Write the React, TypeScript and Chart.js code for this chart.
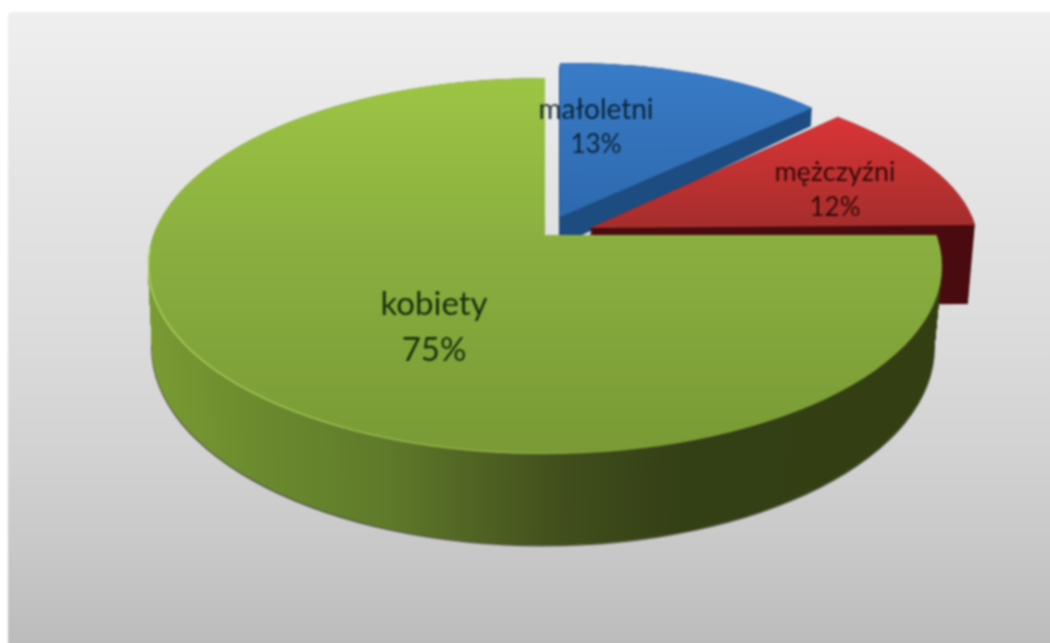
import React, { useEffect, useRef } from "react";
import { Chart, registerables } from "chart.js";

Chart.register(...registerables);

// ---- data ----
const categories = ["małoletni", "mężczyźni", "kobiety"];
const shares = [13, 12, 75];

// ---- styling / geometry ----
const WIDTH = 1050;
const HEIGHT = 643;
const BLEED = 10; // the canvas runs past the window so the soft filter leaves no pale edge
const FONT = "Lato, 'Open Sans', sans-serif";

const faceStops = [
  [[0, "#3a7cc8"], [1, "#2d69ae"]],
  [[0, "#dc3437"], [1, "#a52e2c"]],
];
const sliceMatrix = [
  { ax: 346, ay: -5, cx: 0, cy: 154, ox: 560, oy: 217, top: 63, base: { ox: 559, oy: 246, cy: 170 }, side: "#1e4d82" },
  { ax: 385, ay: -3, cx: 48, cy: 159, ox: 590, oy: 228, top: 117, base: { ox: 583, oy: 307, cy: 159 }, side: "#4a0c10" },
];
const greenApex = { x: 545, y: 235 };
const greenTop = { x: 545, y: 266, rx: 397, ry: 188 };
const greenBase = { x: 543, y: 347, rx: 391, ry: 198 };
const greenFaceStops = [[0, "#9dc544"], [0.42, "#8bb040"], [1, "#799a35"]];
const greenRimStops = [
  [0, "#7a9a33"], [0.14, "#6b8a2e"], [0.3, "#5f7a2a"], [0.42, "#4f6223"],
  [0.52, "#414f1c"], [0.68, "#333f15"], [1, "#333f12"],
];
const panelStops = [
  [0, "#efefef"], [0.3, "#e3e3e3"], [0.5, "#dcdcdc"], [0.7, "#d2d2d2"], [0.85, "#c8c8c8"], [1, "#bcbcbc"],
];
const labelSpots = [
  { x: 596, y: 110, gap: 35, size: 28, pct: 26, color: "rgba(8,28,40,0.9)" },
  { x: 835, y: 172, gap: 36, size: 27, pct: 26, color: "rgba(40,5,5,0.92)" },
  { x: 434, y: 304, gap: 46, size: 33, pct: 33, color: "rgba(15,40,10,0.95)" },
];

function gradient(ctx: any, x0: number, y0: number, x1: number, y1: number, stops: any[]) {
  const g = ctx.createLinearGradient(x0, y0, x1, y1);
  stops.forEach(([o, c]) => g.addColorStop(o, c));
  return g;
}

function paint(arc: any, ctx: any, fill: any) {
  const saved = arc.options;
  arc.options = { ...saved, backgroundColor: fill };
  arc.draw(ctx);
  arc.options = saved;
}

function place(ctx: any, arc: any, a: number, b: number, c: number, d: number, e: number, f: number) {
  const R = arc.outerRadius;
  ctx.transform(a / R, b / R, c / R, d / R, e, f);
  ctx.translate(-arc.x, -arc.y);
}

const pie3d = {
  id: "pie3d",
  beforeDraw(chart: any) {
    const ctx = chart.ctx;
    ctx.save();
    ctx.fillStyle = "#ffffff";
    ctx.fillRect(0, 0, WIDTH + BLEED, HEIGHT + BLEED);
    ctx.fillStyle = gradient(ctx, 0, 12, 0, HEIGHT, panelStops);
    ctx.beginPath();
    ctx.roundRect(8, 12, WIDTH - 8 + BLEED, HEIGHT - 12 + BLEED, 5);
    ctx.fill();
    ctx.restore();
  },
  beforeDatasetsDraw(chart: any) {
    const ctx = chart.ctx;
    const arcs = chart.getDatasetMeta(0).data;

    // exploded wedges: side first, then face
    sliceMatrix.forEach((m, i) => {
      const arc = arcs[i];
      const R = arc.outerRadius;
      const steps = Math.ceil(m.base.oy - m.oy);
      for (let s = steps; s >= 0; s -= 1) {
        const k = s / steps;
        ctx.save();
        place(
          ctx, arc, m.ax, m.ay, m.cx,
          m.cy + (m.base.cy - m.cy) * k,
          m.ox + (m.base.ox - m.ox) * k,
          m.oy + (m.base.oy - m.oy) * k,
        );
        paint(arc, ctx, m.side);
        ctx.restore();
      }
      ctx.save();
      place(ctx, arc, m.ax, m.ay, m.cx, m.cy, m.ox, m.oy);
      const y0 = arc.y + ((m.top - m.oy) * R) / m.cy;
      paint(arc, ctx, gradient(ctx, arc.x, y0, arc.x, arc.y, faceStops[i]));
      ctx.restore();
    });

    // large slice: soft dark edge under the rim
    const big = arcs[2];
    const R = big.outerRadius;
    ctx.save();
    place(ctx, big, greenBase.rx + 1, 0, 0, greenBase.ry + 1, greenBase.x, greenBase.y + 0.5);
    paint(big, ctx, "rgba(40,50,22,0.75)");
    ctx.restore();

    // large slice: rim
    const steps = 90;
    for (let s = steps; s >= 0; s -= 1) {
      const k = s / steps;
      const x = greenTop.x + (greenBase.x - greenTop.x) * k;
      const y = greenTop.y + (greenBase.y - greenTop.y) * k;
      const rx = greenTop.rx + (greenBase.rx - greenTop.rx) * k;
      const ry = greenTop.ry + (greenBase.ry - greenTop.ry) * k;
      ctx.save();
      place(ctx, big, rx, 0, 0, ry, x, y);
      paint(big, ctx, gradient(ctx, big.x - R, 0, big.x + R, 0, greenRimStops));
      ctx.restore();
    }

    // large slice: face, apex off the ellipse's centre, trimmed to the ellipse
    ctx.save();
    ctx.beginPath();
    ctx.ellipse(greenTop.x, greenTop.y, greenTop.rx, greenTop.ry, 0, 0, Math.PI * 2);
    ctx.clip();
    const sx = 500;
    const sy = 300;
    place(ctx, big, sx, 0, 0, sy, greenApex.x, greenApex.y);
    const py = (v: number) => big.y + ((v - greenApex.y) * R) / sy;
    paint(big, ctx, gradient(ctx, big.x, py(78), big.x, py(454), greenFaceStops));
    ctx.restore();

    // pale edge on the lower-left, fading out to the right
    ctx.save();
    ctx.strokeStyle = gradient(ctx, 148, 0, 640, 0, [
      [0, "rgba(185,222,105,0.75)"],
      [0.7, "rgba(185,222,105,0.45)"],
      [1, "rgba(185,222,105,0)"],
    ]);
    ctx.lineWidth = 1.5;
    ctx.beginPath();
    ctx.ellipse(greenTop.x, greenTop.y, greenTop.rx - 0.5, greenTop.ry - 0.5, 0, Math.PI * 0.42, Math.PI * 1.03);
    ctx.stroke();
    ctx.restore();
    return false;
  },
  afterDraw(chart: any) {
    const ctx = chart.ctx;
    const total = shares.reduce((a, b) => a + b, 0);
    ctx.save();
    ctx.textAlign = "center";
    ctx.textBaseline = "middle";
    categories.forEach((name, i) => {
      const l = labelSpots[i];
      ctx.fillStyle = l.color;
      ctx.font = `${l.size}px ${FONT}`;
      ctx.fillText(name, l.x, l.y);
      ctx.font = `${l.pct}px ${FONT}`;
      ctx.fillText(`${Math.round((shares[i] / total) * 100)}%`, l.x, l.y + l.gap);
    });
    ctx.restore();
  },
};

export default function App() {
  const ref = useRef<HTMLCanvasElement | null>(null);
  useEffect(() => {
    document.body.style.margin = "0";
    const chart = new Chart(ref.current as HTMLCanvasElement, {
      type: "pie",
      data: {
        labels: categories,
        datasets: [{ data: shares, backgroundColor: ["#3a7bc6", "#c93234", "#8bb040"], borderWidth: 0 }],
      },
      options: {
        responsive: false,
        animation: false,
        plugins: { legend: { display: false }, tooltip: { enabled: false } },
      },
      plugins: [pie3d],
    } as any);
    return () => chart.destroy();
  }, []);
  return (
    <div style={{ width: WIDTH, height: HEIGHT, overflow: "hidden" }}>
      <canvas
        ref={ref}
        width={WIDTH + BLEED}
        height={HEIGHT + BLEED}
        style={{ display: "block", width: WIDTH + BLEED, height: HEIGHT + BLEED, filter: "blur(1.1px)" }}
      />
    </div>
  );
}
